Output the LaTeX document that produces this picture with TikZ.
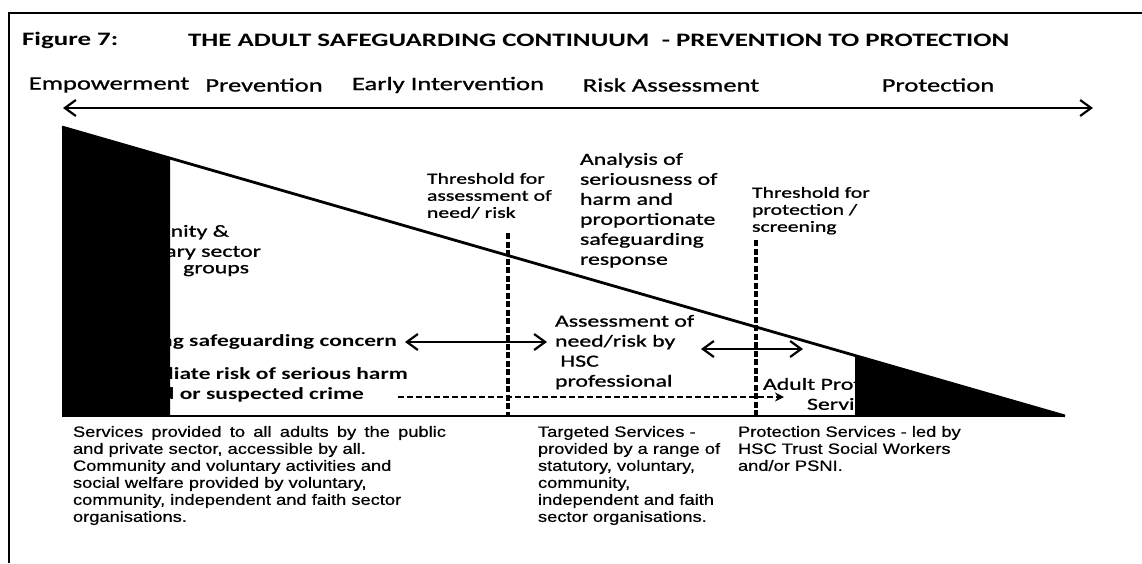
\documentclass[tikz,border=0pt]{standalone}
\usepackage{fontspec}
\setmainfont{Liberation Sans}[FakeStretch=1.22,FakeBold=0.6]
\newfontfamily\calw{Carlito}[FakeStretch=1.4,FakeBold=1]
\newfontfamily\calt{Carlito}[FakeStretch=1.42]
\newfontfamily\calb{Carlito}[FakeStretch=1.38]
\usetikzlibrary{arrows.meta}
\tikzset{
  txt/.style={inner sep=0pt, outer sep=0pt},
  hdr/.style={txt, font=\calw\fontsize{19}{22}\selectfont},
  ttl/.style={txt, anchor=west, font=\calt\bfseries\fontsize{19}{22}\selectfont},
  small/.style={txt, anchor=north west, align=left, font=\calw\fontsize{15.5}{17}\selectfont},
  mid/.style={txt, anchor=north west, align=left, font=\calw\fontsize{17}{20}\selectfont},
  boldlbl/.style={txt, anchor=east, font=\calb\bfseries\fontsize{17}{21}\selectfont},
  body/.style={txt, anchor=north west, align=left, font=\fontsize{15}{17}\selectfont},
  barb/.style={line width=2pt, {Straight Barb[length=11pt,width=16pt,line width=2.2pt]}-{Straight Barb[length=11pt,width=16pt,line width=2.2pt]}},
  vdash/.style={line width=3.5pt, dash pattern=on 6pt off 2.5pt},
  ddash/.style={line width=1.8pt, dash pattern=on 6pt off 3pt, -{Stealth[length=9pt,width=9pt]}},
  edge/.style={line width=2.8pt},
}
\begin{document}
\begin{tikzpicture}[x=1pt,y=-1pt]
\useasboundingbox (0,0) rectangle (1142,563);
\fill[white] (0,0) rectangle (1142,563);
% frame
\coordinate (fbl) at (8.5,563);
\coordinate (ftl) at (8.5,12.5);
\coordinate (ftr) at (1142,12.5);
\draw[line width=2pt] (fbl) -- (ftl) -- (ftr);
% title
\node[ttl] (fig) at (22,40) {Figure 7:};
\node[ttl] (title) at (188,40) {THE ADULT SAFEGUARDING CONTINUUM \ - PREVENTION TO PROTECTION};
% headings
\node[hdr] (h1) at (109,85) {Empowerment};
\node[hdr] (h2) at (264,85) {Prevention};
\node[hdr] (h3) at (448,85) {Early Intervention};
\node[hdr] (h4) at (671,85) {Risk Assessment};
\node[hdr] (h5) at (938,85) {Protection};
% main arrow
\coordinate (al) at (63,108);
\coordinate (ar) at (1093,108);
\draw[barb] (al) -- (ar);
% texts under black shapes
\node[mid, anchor=north east] (c1) at (229,225) {Community \&};
\node[mid, anchor=north east] (c2) at (261,245) {voluntary sector};
\node[mid, anchor=north east] (c3) at (249,265) {groups};
\node[boldlbl] (r1) at (397,342) {Raising safeguarding concern};
\node[boldlbl] (r2) at (408,374) {Immediate risk of serious harm};
\node[boldlbl] (r3) at (364,395) {Alleged or suspected crime};
\node[mid] (aps) at (763,378) {Adult Protection\\\hspace*{44pt}Services};
% triangle
\coordinate (tA) at (62,127);
\coordinate (tB) at (1065,416);
\coordinate (tC) at (62,416);
\fill[black] (tA) -- (170,158.2) -- (170,416) -- (tC) -- cycle;
\fill[black] (855,356.3) -- (tB) -- (855,416) -- cycle;
\draw[edge] (tA) -- (tB);
\draw[edge] (tC) -- (tB);
% thresholds
\coordinate (d1t) at (508,233);
\coordinate (d1b) at (508,416);
\coordinate (d2t) at (756,240);
\coordinate (d2b) at (756,416);
\draw[vdash] (d1t) -- (d1b);
\draw[vdash] (d2t) -- (d2b);
\node[small] (th1) at (427,173) {Threshold for\\assessment of\\need/ risk};
\node[mid] (an) at (580,153) {Analysis of\\seriousness of\\harm and\\proportionate\\safeguarding\\response};
\node[small] (th2) at (752,187) {Threshold for\\protection /\\screening};
\node[mid] (as) at (555,315) {Assessment of\\need/risk by\\\ HSC\\professional};
% arrows
\coordinate (b1l) at (405,342);
\coordinate (b1r) at (547,342);
\draw[barb] (b1l) -- (b1r);
\coordinate (b2l) at (701,349);
\coordinate (b2r) at (803,349);
\draw[barb] (b2l) -- (b2r);
\coordinate (dl) at (398,397);
\coordinate (dr) at (784,397);
\draw[ddash] (dl) -- (dr);
% bottom texts
\node[body] (s1) at (73,426) {\makebox[373pt][s]{Services provided to all adults by the public}\\and private sector, accessible by all.\\Community and voluntary activities and\\social welfare provided by voluntary,\\community, independent and faith sector\\organisations.};
\node[body] (s2) at (538,426) {Targeted Services -\\provided by a range of\\statutory, voluntary,\\community,\\independent and faith\\sector organisations.};
\node[body] (s3) at (738,426) {Protection Services - led by\\HSC Trust Social Workers\\and/or PSNI.};
\end{tikzpicture}
\end{document}
